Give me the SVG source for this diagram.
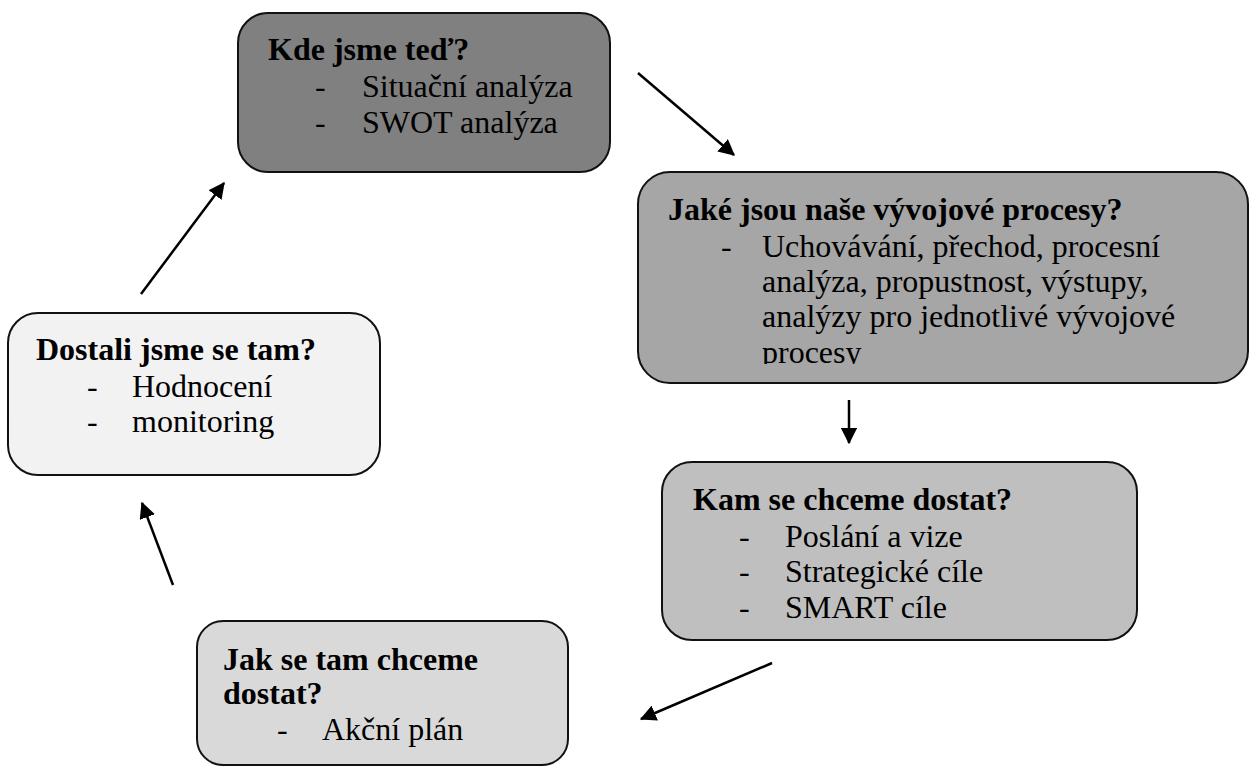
<svg xmlns="http://www.w3.org/2000/svg" width="1250" height="769" viewBox="0 0 1250 769">
<defs>
<style>
.box{stroke:#111;stroke-width:2}
.t{font-family:"Liberation Serif","Times New Roman",serif;font-size:32px;fill:#000}
.b{font-weight:bold}
.c{stroke:#000;stroke-width:2.5;fill:none}
</style>
<marker id="ah" markerWidth="6.5" markerHeight="6.5" refX="6" refY="3.25" orient="auto" markerUnits="strokeWidth" viewBox="0 0 6.5 6.5">
<path d="M0,0 L6.5,3.25 L0,6.5 Z" fill="#000"/>
</marker>
<clipPath id="clip2"><rect x="638" y="172" width="610" height="192"/></clipPath>
</defs>
<rect width="1250" height="769" fill="#fff"/>
<g id="connectors">
<line class="c" x1="638" y1="73" x2="734" y2="155" marker-end="url(#ah)"/>
<line class="c" x1="849" y1="400" x2="849" y2="443" marker-end="url(#ah)"/>
<line class="c" x1="772" y1="663" x2="641" y2="719" marker-end="url(#ah)"/>
<line class="c" x1="173" y1="585" x2="142" y2="503" marker-end="url(#ah)"/>
<line class="c" x1="141" y1="294" x2="224" y2="183" marker-end="url(#ah)"/>
</g>
<g id="node-kde">
<rect class="box" x="238" y="13" width="372" height="159" rx="30" fill="#808080"/>
<text class="t b" x="268" y="60">Kde jsme teď?</text>
<text class="t" x="315" y="97">-</text>
<text class="t" x="362" y="97">Situační analýza</text>
<text class="t" x="315" y="133">-</text>
<text class="t" x="362" y="133">SWOT analýza</text>
</g>
<g id="node-jake">
<rect class="box" x="638" y="172" width="610" height="211" rx="32" fill="#a6a6a6"/>
<text class="t b" x="668" y="220">Jaké jsou naše vývojové procesy?</text>
<text class="t" x="721" y="257">-</text>
<text class="t" x="762" y="257">Uchovávání, přechod, procesní</text>
<text class="t" x="762" y="292">analýza, propustnost, výstupy,</text>
<text class="t" x="762" y="327">analýzy pro jednotlivé vývojové</text>
<text class="t" x="762" y="363" clip-path="url(#clip2)">procesy</text>
</g>
<g id="node-kam">
<rect class="box" x="662" y="462" width="475" height="178" rx="30" fill="#bfbfbf"/>
<text class="t b" x="693" y="510">Kam se chceme dostat?</text>
<text class="t" x="739" y="547">-</text>
<text class="t" x="785" y="547">Poslání a vize</text>
<text class="t" x="739" y="582">-</text>
<text class="t" x="785" y="582">Strategické cíle</text>
<text class="t" x="739" y="618">-</text>
<text class="t" x="785" y="618">SMART cíle</text>
</g>
<g id="node-jak">
<rect class="box" x="197" y="621" width="371" height="144" rx="26" fill="#d9d9d9"/>
<text class="t b" x="223" y="670">Jak se tam chceme</text>
<text class="t b" x="223" y="704">dostat?</text>
<text class="t" x="277" y="740">-</text>
<text class="t" x="322" y="740">Akční plán</text>
</g>
<g id="node-dostali">
<rect class="box" x="8" y="313" width="372" height="162" rx="30" fill="#f2f2f2"/>
<text class="t b" x="36" y="360">Dostali jsme se tam?</text>
<text class="t" x="87" y="397">-</text>
<text class="t" x="132" y="397">Hodnocení</text>
<text class="t" x="87" y="432">-</text>
<text class="t" x="132" y="432">monitoring</text>
</g>
</svg>
